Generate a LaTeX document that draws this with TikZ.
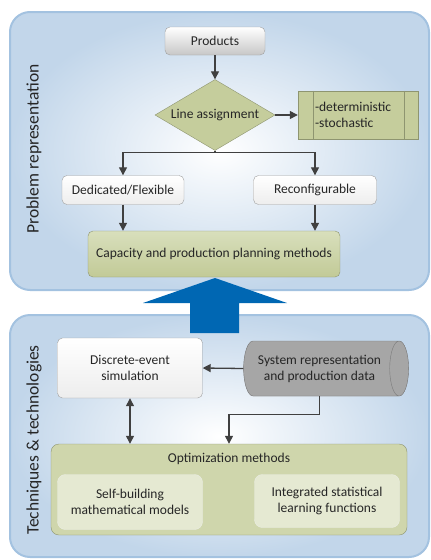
\documentclass[tikz,border=0pt]{standalone}
\usepackage{fontspec}
\setmainfont{Carlito}
\usetikzlibrary{shapes.geometric,arrows.meta,calc}
\definecolor{panelb}{HTML}{C2D6EA}
\definecolor{panelline}{HTML}{A3C2E0}
\definecolor{olive}{HTML}{C5CD9C}
\definecolor{olivetop}{HTML}{D8DFBC}
\definecolor{olivebot}{HTML}{C2CA97}
\definecolor{oliveline}{HTML}{8E9570}
\definecolor{optfill}{HTML}{CFD6AC}
\definecolor{innerfill}{HTML}{E5E9D2}
\definecolor{boxline}{HTML}{A0A0A0}
\definecolor{arrowc}{HTML}{404040}
\definecolor{bigblue}{HTML}{0067B3}
\definecolor{cylfill}{HTML}{A6A6A6}
\definecolor{cylline}{HTML}{7A7A7A}
\tikzset{
  txt/.style={font=\fontsize{13.5}{16}\selectfont, align=center, text=black!85},
  panel/.style={draw=panelline, line width=2pt, rounded corners=20pt, shading=radial, inner color=white, outer color=panelb},
  whitebox/.style={txt, draw=boxline, rounded corners=5pt, top color=white, bottom color=black!7, inner sep=2pt},
  graybox/.style={txt, draw=boxline, rounded corners=5pt, top color=white, bottom color=black!22, inner sep=2pt},
  olivebox/.style={txt, draw=oliveline, rounded corners=5pt, top color=olivetop, bottom color=olivebot, inner sep=2pt},
  innerbox/.style={txt, draw=innerfill!90!black!40, rounded corners=8pt, fill=innerfill, inner sep=2pt},
  arr/.style={draw=arrowc, line width=1.3pt, -{Triangle[length=8pt,width=8pt]}},
  darr/.style={draw=arrowc, line width=1.3pt, {Triangle[length=8pt,width=8pt]}-{Triangle[length=8pt,width=8pt]}},
  ttl/.style={font=\fontsize{17.5}{20}\selectfont, rotate=90, text=black!85}
}
\begin{document}
\begin{tikzpicture}[x=1pt,y=-1pt]
\useasboundingbox (0,0) rectangle (431,560);
% panels
\path[panel] (10,12) rectangle (429,290);
\path[panel] (10,315) rectangle (429,557);
\node[ttl] (t1) at (34,149) {Problem representation};
\node[ttl] (t2) at (34,440) {Techniques \& technologies};
% top nodes
\node[graybox, minimum width=100pt, minimum height=28pt] (prod) at (215,41) {Products};
\node[diamond, draw=oliveline, fill=olive, minimum width=120pt, minimum height=71pt, inner sep=0pt] (diam) at (215,115) {};
\node[txt] (diamt) at (diam.center) {Line assignment};
\node[txt, draw=oliveline, fill=olive, minimum width=120pt, minimum height=48pt, text width=86pt, align=left, inner sep=0pt, font=\fontsize{13.5}{16}\selectfont] (det) at (358,115) {-deterministic\\-stochastic};
\draw[oliveline] ([xshift=15pt]det.north west) -- ([xshift=15pt]det.south west);
\draw[oliveline] ([xshift=-14pt]det.north east) -- ([xshift=-14pt]det.south east);
\node[whitebox, minimum width=122pt, minimum height=29pt] (ded) at (123,190) {Dedicated/Flexible};
\node[whitebox, minimum width=123pt, minimum height=29pt] (rec) at (315,190) {Reconfigurable};
\node[olivebox, minimum width=252pt, minimum height=46pt] (cap) at (214,254) {Capacity and production planning methods};
\draw[arr] (prod) -- (diam);
\draw[arr] (diam) -- (det);
\draw[arr] (diam.south) -- ++(0,2) -| (ded.north);
\draw[arr] (diam.south) -- ++(0,2) -| (rec.north);
\draw[arr] (ded.south) -- (ded.south |- cap.north);
\draw[arr] (rec.south) -- (rec.south |- cap.north);
% big arrow
\fill[bigblue] (190,333) -- (190,303) -- (143,303) -- (215,278) -- (287,303) -- (239,303) -- (239,333) -- cycle;
% bottom nodes
\node[whitebox, minimum width=145pt, minimum height=60pt] (des) at (130,368) {Discrete-event\\simulation};
\node[txt, cylinder, shape aspect=0.6, draw=cylline, fill=cylfill, minimum width=55pt, minimum height=165pt, inner sep=2pt, cylinder uses custom fill, cylinder body fill=cylfill, cylinder end fill=cylfill!85!black] (cyl) at (319.5,368.5) {System representation\\and production data};
\node[olivebox, draw=oliveline, top color=optfill, bottom color=optfill, rounded corners=8pt, minimum width=356pt, minimum height=91pt] (opt) at (229,489.5) {};
\node[txt] (optt) at (229,459) {Optimization methods};
\node[innerbox, minimum width=145pt, minimum height=55pt] (self) at (130,502) {Self-building\\mathematical models};
\node[innerbox, minimum width=145pt, minimum height=53pt] (integ) at (327,501) {Integrated statistical\\learning functions};
\draw[arr] (cyl.west) -- (des.east);
\draw[darr] (des.south) -- (des.south |- opt.north);
\draw[arr] (cyl.south) -- ++(0,18) -| (opt.north);
\end{tikzpicture}
\end{document}
